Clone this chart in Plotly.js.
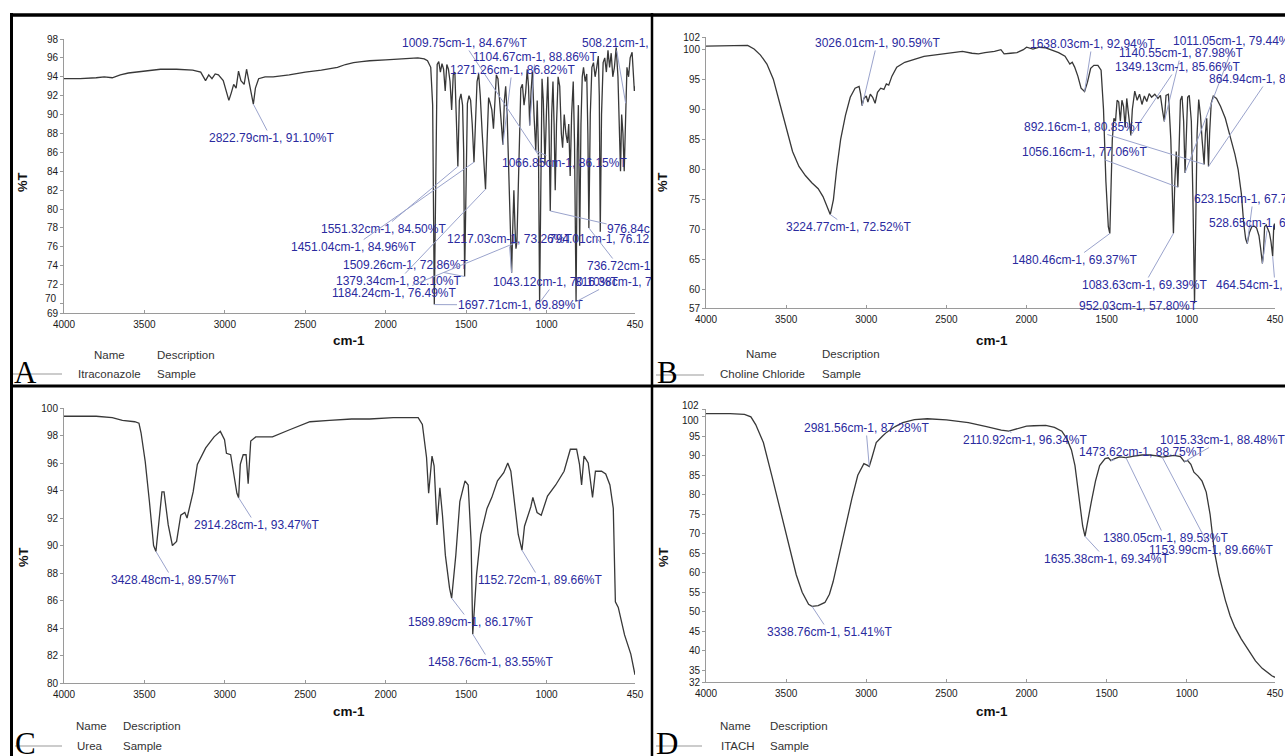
<!DOCTYPE html>
<html><head><meta charset="utf-8">
<script src="https://cdn.plot.ly/plotly-3.0.1.min.js"></script>
<style>html,body{margin:0;padding:0;background:#fff}#chart{width:1285px;height:756px}</style>
</head><body><div id="chart"></div>
<script>
// ---------------- DATA ----------------
const xTicks = [4000,3500,3000,2500,2000,1500,1000,450];
const yTicksA = [69,70,72,74,76,78,80,82,84,86,88,90,92,94,96,98];
const yTicksB = [57,60,65,70,75,80,85,90,95,100,102];
const yTicksC = [80,82,84,86,88,90,92,94,96,98,100];
const yTicksD = [32,35,40,45,50,55,60,65,70,75,80,85,90,95,100,102];

const sampleNames = ['Itraconazole','Choline Chloride','Urea','ITACH'];
const panelLetters = ['A','B','C','D'];

// [wavenumber cm-1, %T]
const itraconazole = [[4000,93.8],[3900,93.8],[3800,93.9],[3750,94.0],[3700,93.9],[3650,94.2],[3600,94.4],[3500,94.6],[3400,94.8],[3300,94.8],[3200,94.7],[3150,94.5],[3120,93.6],[3100,94.2],[3080,93.8],[3060,94.3],[3040,94.2],[3010,93.6],[2990,92.5],[2975,91.5],[2960,92.3],[2945,93.2],[2930,92.8],[2915,94.6],[2900,93.6],[2880,93.2],[2865,94.8],[2850,93.5],[2835,92.2],[2822.79,91.1],[2810,92.8],[2790,93.8],[2750,94.0],[2700,94.0],[2600,94.2],[2500,94.5],[2400,94.7],[2300,95.0],[2250,95.3],[2200,95.5],[2150,95.6],[2100,95.7],[2000,95.8],[1900,95.9],[1800,96.0],[1760,95.9],[1740,95.7],[1720,95.0],[1708,91],[1697.71,69.89],[1688,86],[1680,95.3],[1670,95.6],[1660,94.5],[1650,95.4],[1640,94.8],[1630,92.5],[1620,95.3],[1610,94.8],[1600,93.5],[1590,90.5],[1580,94.2],[1570,94.5],[1560,90],[1551.32,84.5],[1542,91.5],[1532,92.2],[1522,91],[1515,86],[1509.26,72.86],[1500,84],[1492,91.2],[1482,92],[1472,91.5],[1462,89],[1451.04,84.96],[1442,89],[1432,93.5],[1422,94.3],[1412,92],[1400,88],[1390,84.5],[1379.34,82.1],[1370,87],[1360,91.8],[1350,91.2],[1340,90.5],[1330,88.5],[1322,91.5],[1312,94.2],[1302,93.8],[1292,91.5],[1282,89],[1271.26,86.82],[1262,91.5],[1254,93],[1245,90],[1235,83],[1225,76],[1217.03,73.26],[1210,78],[1203,82],[1196,78],[1190,75.8],[1184.24,76.49],[1176,82],[1168,88],[1160,92.8],[1150,93.2],[1140,91],[1130,92.3],[1120,94.8],[1112,93],[1104.67,88.86],[1096,92.5],[1088,94.5],[1078,90],[1066.85,86.15],[1058,91.5],[1050,86],[1043.12,70.1],[1036,84],[1028,93.8],[1020,91.5],[1009.75,84.67],[1000,90.5],[992,94],[985,89],[976.84,79.8],[968,90],[960,93.5],[953,89],[946,82],[938,89],[928,94],[918,93],[908,88],[900,86.5],[890,90],[880,88],[870,87],[862,89],[853,83.5],[844,90],[834,93.5],[826,87],[816.38,70.2],[809,86],[802,91],[794.01,76.12],[786,89],[778,94],[770,95],[760,93.5],[750,94.3],[743,88],[736.72,78],[728,90],[718,95],[708,95.5],[698,94],[688,95],[678,96.2],[672,92],[666,77.6],[658,90],[648,95.5],[638,96],[628,94.5],[618,96.8],[608,95],[598,96.5],[588,94],[578,95],[567,97.1],[556,94],[546,86],[540,84],[533,90],[525,88],[517,84],[508.21,91.2],[500,95],[490,94],[480,96],[468,96.6],[460,94],[454,92.5],[450,93]];

const cholineChloride = [[4000,100.5],[3900,100.5],[3800,100.6],[3740,100.6],[3700,100.0],[3660,99.0],[3620,97.5],[3580,95],[3540,91],[3500,87],[3460,83],[3420,80.5],[3380,79],[3340,77.8],[3300,76.8],[3270,75.5],[3245,74],[3224.77,72.52],[3205,75],[3185,80],[3160,85],[3130,89],[3100,92],[3070,93.5],[3045,93.8],[3035,92.5],[3026.01,90.59],[3015,91.8],[3000,92.2],[2990,91.2],[2975,92.5],[2960,92],[2945,91],[2930,92.8],[2910,93.5],[2890,93.3],[2875,94.2],[2860,94],[2840,95.5],[2810,97],[2760,97.8],[2700,98.3],[2640,98.8],[2580,99.0],[2520,99.2],[2460,99.3],[2400,99.6],[2340,99.3],[2300,99.2],[2260,99.4],[2200,99.6],[2160,99.9],[2140,99.2],[2100,99.3],[2060,99.4],[2020,99.9],[2000,100.3],[1960,100.0],[1920,100.3],[1880,100.2],[1840,99.8],[1800,99.4],[1760,98.8],[1730,97.5],[1715,97.8],[1700,97.0],[1680,95.5],[1660,93.5],[1638.03,92.94],[1620,94.5],[1600,96.8],[1580,97.3],[1555,97.3],[1535,96.5],[1520,90],[1505,78],[1490,70.5],[1480.46,69.37],[1472,78],[1465,85],[1455,88.5],[1445,88],[1435,91.5],[1425,91.2],[1415,88],[1405,91.5],[1395,90.5],[1385,87],[1375,91.8],[1360,88],[1349.13,85.66],[1340,90],[1325,93],[1310,91.5],[1295,92.5],[1280,90.8],[1265,92.2],[1250,91.3],[1235,92.6],[1220,92],[1200,92.5],[1180,91.8],[1165,92.3],[1150,89.5],[1140.55,87.98],[1130,92.3],[1115,92.5],[1100,85],[1090,72],[1083.63,69.39],[1075,78],[1066,83],[1060,80],[1056.16,77.06],[1050,82],[1040,91.5],[1030,92.2],[1020,88],[1011.05,79.44],[1003,86],[995,92],[985,92.3],[972,88],[962,75],[952.03,57.8],[944,72],[936,86],[926,91.6],[915,89],[905,85],[892.16,80.85],[884,86],[876,88.5],[870,84],[864.94,80.5],[858,86],[848,91],[835,92.2],[815,91.8],[790,90.5],[760,88.5],[730,85.5],[700,82.5],[680,80],[660,76],[645,71],[633,68.5],[623.15,67.7],[610,69.5],[595,70.5],[580,70.6],[565,70.3],[550,69],[540,67],[533,65],[528.65,64.4],[522,66],[515,70.5],[505,70.8],[495,70],[485,69.5],[475,68],[468,65.8],[464.54,65.6],[458,70.5],[453,71],[450,70]];

const urea = [[4000,99.4],[3900,99.4],[3800,99.4],[3700,99.3],[3637,99.1],[3560,99.0],[3534,98.9],[3521,98.2],[3495,96.1],[3469,93.2],[3443,90],[3428.48,89.57],[3417,90.8],[3391,93.9],[3378,93.9],[3352,91.5],[3326,90],[3300,90.3],[3274,92.2],[3249,92.4],[3235,92.0],[3223,92.6],[3197,93.9],[3171,95.9],[3119,97.1],[3067,97.9],[3028,98.3],[3002,97.7],[2990,96.7],[2964,96.6],[2951,95.6],[2925,93.8],[2914.28,93.47],[2904,95.9],[2886,96.6],[2868,96.6],[2855,94.5],[2839,97.6],[2808,97.9],[2704,97.9],[2601,98.4],[2471,99.0],[2350,99.1],[2212,99.2],[2100,99.2],[1953,99.3],[1850,99.3],[1798,99.3],[1772,98.8],[1746,96.4],[1733,93.8],[1712,96.5],[1699,95.8],[1681,91.5],[1663,94.2],[1647,92.2],[1629,89.3],[1603,86.9],[1589.89,86.17],[1564,89.3],[1539,93.2],[1507,94.7],[1487,94.4],[1469,90.3],[1458.76,83.55],[1435,87.9],[1409,90.8],[1370,92.7],[1340,93.5],[1305,94.7],[1266,95.3],[1241,96],[1222,95.4],[1202,93.2],[1176,90.8],[1152.72,89.66],[1137,91.4],[1098,92.8],[1085,93.5],[1059,92.4],[1033,92.2],[994,93.6],[943,94.4],[891,95.4],[852,97],[813,97],[795,95.9],[782,94.4],[767,96.5],[741,96],[722,94.4],[714,93.5],[696,95.4],[658,95.4],[632,95.2],[606,94.4],[585,92.7],[572,85.9],[554,85.5],[515,83.5],[476,82.1],[450,80.6]];

const itach = [[4000,100.8],[3850,100.8],[3760,100.6],[3720,100],[3690,98],[3642,93.4],[3590,85],[3540,76.6],[3490,68],[3437,59.5],[3400,55],[3360,51.9],[3338.76,51.41],[3300,51.6],[3258,52.4],[3230,54.5],[3207,57.7],[3170,64.5],[3130,72.2],[3090,79],[3053,85],[3015,88],[2995,87.6],[2981.56,87.28],[2965,89.5],[2938,93.4],[2900,95],[2874,96],[2820,97.5],[2772,98.5],[2700,99.3],[2619,99.5],[2500,99.2],[2363,98.5],[2250,97.5],[2158,96.6],[2110.92,96.34],[2060,97],[2000,97.6],[1954,97.7],[1880,97.8],[1826,97.3],[1780,96.3],[1749,94.4],[1720,91.5],[1698,87.5],[1670,79],[1650,72],[1635.38,69.34],[1620,73],[1596,78.2],[1570,83.5],[1544,87.5],[1510,89.3],[1490,89.5],[1473.62,88.75],[1450,89.3],[1420,89.7],[1380.05,89.53],[1330,89.9],[1280,90.2],[1230,90.2],[1186,90],[1153.99,89.66],[1120,89.9],[1080,90.1],[1040,89.8],[1015.33,88.48],[995,88.8],[975,87.8],[956,85.8],[930,84.8],[905,83.5],[879,80.7],[855,75],[828,65.4],[800,59.5],[760,53],[730,49],[700,46],[660,43],[620,40.5],[572,37.4],[530,35.5],[500,34.5],[470,33.6],[450,33.2]];

// labelled peaks [wavenumber, %T]
const peaksA = [[2822.79,91.10],[1009.75,84.67],[1104.67,88.86],[1271.26,86.82],[508.21,91.20],[1066.85,86.15],[1551.32,84.50],[1451.04,84.96],[1509.26,72.86],[1379.34,82.10],[1184.24,76.49],[1697.71,69.89],[1217.03,73.26],[794.01,76.12],[976.84,79.80],[736.72,78.00],[1043.12,70.10],[816.38,70.20]];
const peaksB = [[3026.01,90.59],[3224.77,72.52],[1638.03,92.94],[1011.05,79.44],[1140.55,87.98],[1349.13,85.66],[864.94,80.50],[892.16,80.85],[1056.16,77.06],[623.15,67.72],[528.65,64.40],[1480.46,69.37],[1083.63,69.39],[464.54,65.60],[952.03,57.80]];
const peaksC = [[3428.48,89.57],[2914.28,93.47],[1589.89,86.17],[1458.76,83.55],[1152.72,89.66]];
const peaksD = [[2981.56,87.28],[2110.92,96.34],[1473.62,88.75],[1015.33,88.48],[1380.05,89.53],[1153.99,89.66],[1635.38,69.34],[3338.76,51.41]];

// ---------------- LAYOUT (pixels) ----------------
const W = 1285, H = 756;
// label placement: [left px, centre y px, visible chars (0 = all)]
const placeA = [[212,138,0],[405,43,0],[476,57,0],[453,70,0],[583,43,11],[505,163,0],[324,229,0],[294,247,0],[346,265,0],[339,281,0],[335,293,0],[461,305,0],[450,239,0],[549,239,17],[608,229,7],[589,266,10],[496,282,0],[575,282,13]];
const placeB = [[818,43,0],[789,227,0],[1033,44,0],[1176,41,0],[1122,53,0],[1118,67,0],[1212,79,0],[1027,127,0],[1025,152,0],[1197,199,0],[1212,223,0],[1015,260,0],[1085,285,0],[1219,285,0],[1082,306,0]];
const placeC = [[114,580,0],[197,525,0],[411,622,0],[431,662,0],[481,580,0]];
const placeD = [[807,428,0],[966,440,0],[1082,452,0],[1163,440,0],[1106,538,0],[1152,550,0],[1047,559,0],[770,632,0]];

const panels = [
  {data: itraconazole, peaks: peaksA, place: placeA, px0:64, px1:635, py0:39, py1:313, yr:[69,98], yt:yTicksA,
   moved:[[70,298]],
   letter:[25,372], title:[349,340], ylab:[23,182], legX:[109,155,76], legY:[355,374], legLine:[13,62,374]},
  {data: cholineChloride, peaks: peaksB, place: placeB, px0:706, px1:1275, py0:37, py1:308, yr:[57,102], yt:yTicksB,
   moved:[],
   letter:[667,372], title:[992,340], ylab:[663,182], legX:[761,820,718], legY:[354,374], legLine:[656,704,375]},
  {data: urea, peaks: peaksC, place: placeC, px0:64, px1:635, py0:408, py1:683, yr:[80,100], yt:yTicksC,
   moved:[],
   letter:[25,743], title:[349,711], ylab:[23,557], legX:[91,121,75], legY:[726,746], legLine:[15,62,746]},
  {data: itach, peaks: peaksD, place: placeD, px0:706, px1:1275, py0:409, py1:682, yr:[32,102], yt:yTicksD,
   moved:[[102,405],[100,420]],
   letter:[667,743], title:[992,711], ylab:[663,557], legX:[735,768,719], legY:[726,746], legLine:[656,702,746]}
];

const SANS = 'Liberation Sans, Arial, sans-serif';
const traces = [], annotations = [], shapes = [];
const layout = {width:W, height:H, margin:{l:0,r:0,t:0,b:0}, autosize:false,
  paper_bgcolor:'#fff', plot_bgcolor:'#fff', showlegend:false};

function pa(px, py, text, o) {
  return Object.assign({xref:'paper', yref:'paper', x:px/W, y:1-py/H, text:text, showarrow:false,
    xanchor:'center', yanchor:'middle', font:{family:SANS, size:11.5, color:'#333'}}, o||{});
}
function pline(x0,y0,x1,y1,color,width){
  return {type:'line', xref:'paper', yref:'paper', x0:x0/W, x1:x1/W, y0:1-y0/H, y1:1-y1/H,
    line:{color:color, width:width}, layer:'above'};
}
const tickFont = {family:SANS, size:10, color:'#1a1a1a'};

panels.forEach((p, i) => {
  const n = i === 0 ? '' : String(i+1);
  const xa = 'x'+n, ya = 'y'+n;
  const xData = px => 4000 + (px - p.px0)/(p.px1 - p.px0)*(450 - 4000);
  const yData = py => p.yr[1] - (py - p.py0)/(p.py1 - p.py0)*(p.yr[1] - p.yr[0]);

  traces.push({type:'scatter', mode:'lines', x:p.data.map(d=>d[0]), y:p.data.map(d=>d[1]),
    xaxis:xa, yaxis:ya, line:{color:'#383838', width:1.3}, hoverinfo:'skip'});

  const movedVals = p.moved.map(m=>m[0]);
  layout['xaxis'+n] = {domain:[p.px0/W, p.px1/W], range:[4000,450], anchor:ya,
    tickvals:xTicks, ticks:'inside', ticklen:3, tickcolor:'#9a9a9a', showline:true, linecolor:'#9a9a9a',
    linewidth:1, showgrid:false, zeroline:false, automargin:false, ticklabelstandoff:2, tickfont:tickFont};
  layout['yaxis'+n] = {domain:[1-p.py1/H, 1-p.py0/H], range:p.yr, anchor:xa,
    tickvals:p.yt, ticktext:p.yt.map(v => movedVals.includes(v) ? '' : String(v)),
    ticks:'outside', ticklen:3, tickcolor:'#9a9a9a', showline:true, linecolor:'#9a9a9a',
    linewidth:1, showgrid:false, zeroline:false, automargin:false, tickfont:tickFont};
  // end tick labels nudged apart as in the original software
  p.moved.forEach(m => annotations.push(pa(p.px0-5, m[1], String(m[0]), {xanchor:'right', font:tickFont})));

  // peak labels with leader lines
  p.peaks.forEach((pk, k) => {
    const [left, ly, cut] = p.place[k];
    let txt = pk[0].toFixed(2) + 'cm-1, ' + pk[1].toFixed(2) + '%T';
    if (cut) txt = txt.slice(0, cut);
    const cx = left + txt.length*5.9/2;
    annotations.push({xref:xa, yref:ya, axref:xa, ayref:ya, x:pk[0], y:pk[1],
      ax:xData(cx), ay:yData(ly), text:txt, showarrow:true, arrowhead:0, arrowwidth:1,
      arrowcolor:'#9aa3cc', standoff:0, xanchor:'center', yanchor:'middle', borderpad:0,
      font:{family:SANS, size:12, color:'#2a2a9e'}});
  });

  // axis titles
  annotations.push(pa(p.title[0], p.title[1], 'cm-1', {font:{family:SANS, size:13.5, color:'#111', weight:'bold'}}));
  annotations.push(pa(p.ylab[0], p.ylab[1], '%T', {textangle:-90, font:{family:SANS, size:13, color:'#111', weight:'bold'}}));
  // legend block
  annotations.push(pa(p.legX[0], p.legY[0], 'Name'));
  annotations.push(pa(p.legX[1], p.legY[0], 'Description', {xanchor:'left'}));
  annotations.push(pa(p.legX[2], p.legY[1], sampleNames[i], {xanchor:'left'}));
  annotations.push(pa(p.legX[1], p.legY[1], 'Sample', {xanchor:'left'}));
  shapes.push(pline(p.legLine[0], p.legLine[2], p.legLine[1], p.legLine[2], '#9a9a9a', 1.2));
  // panel letter
  annotations.push(pa(p.letter[0], p.letter[1], panelLetters[i],
    {font:{family:'Liberation Serif, Times New Roman, serif', size:31, color:'#000'}}));
});

// frame lines
shapes.push(pline(10, 15, W, 15, '#000', 3.5));
shapes.push(pline(11.5, 13, 11.5, H, '#000', 3));
shapes.push(pline(652, 13, 652, H, '#000', 2.5));
shapes.push(pline(10, 386, W, 386, '#000', 3));

layout.annotations = annotations;
layout.shapes = shapes;

Plotly.newPlot('chart', traces, layout, {staticPlot:true, displayModeBar:false});
</script>
</body></html>
